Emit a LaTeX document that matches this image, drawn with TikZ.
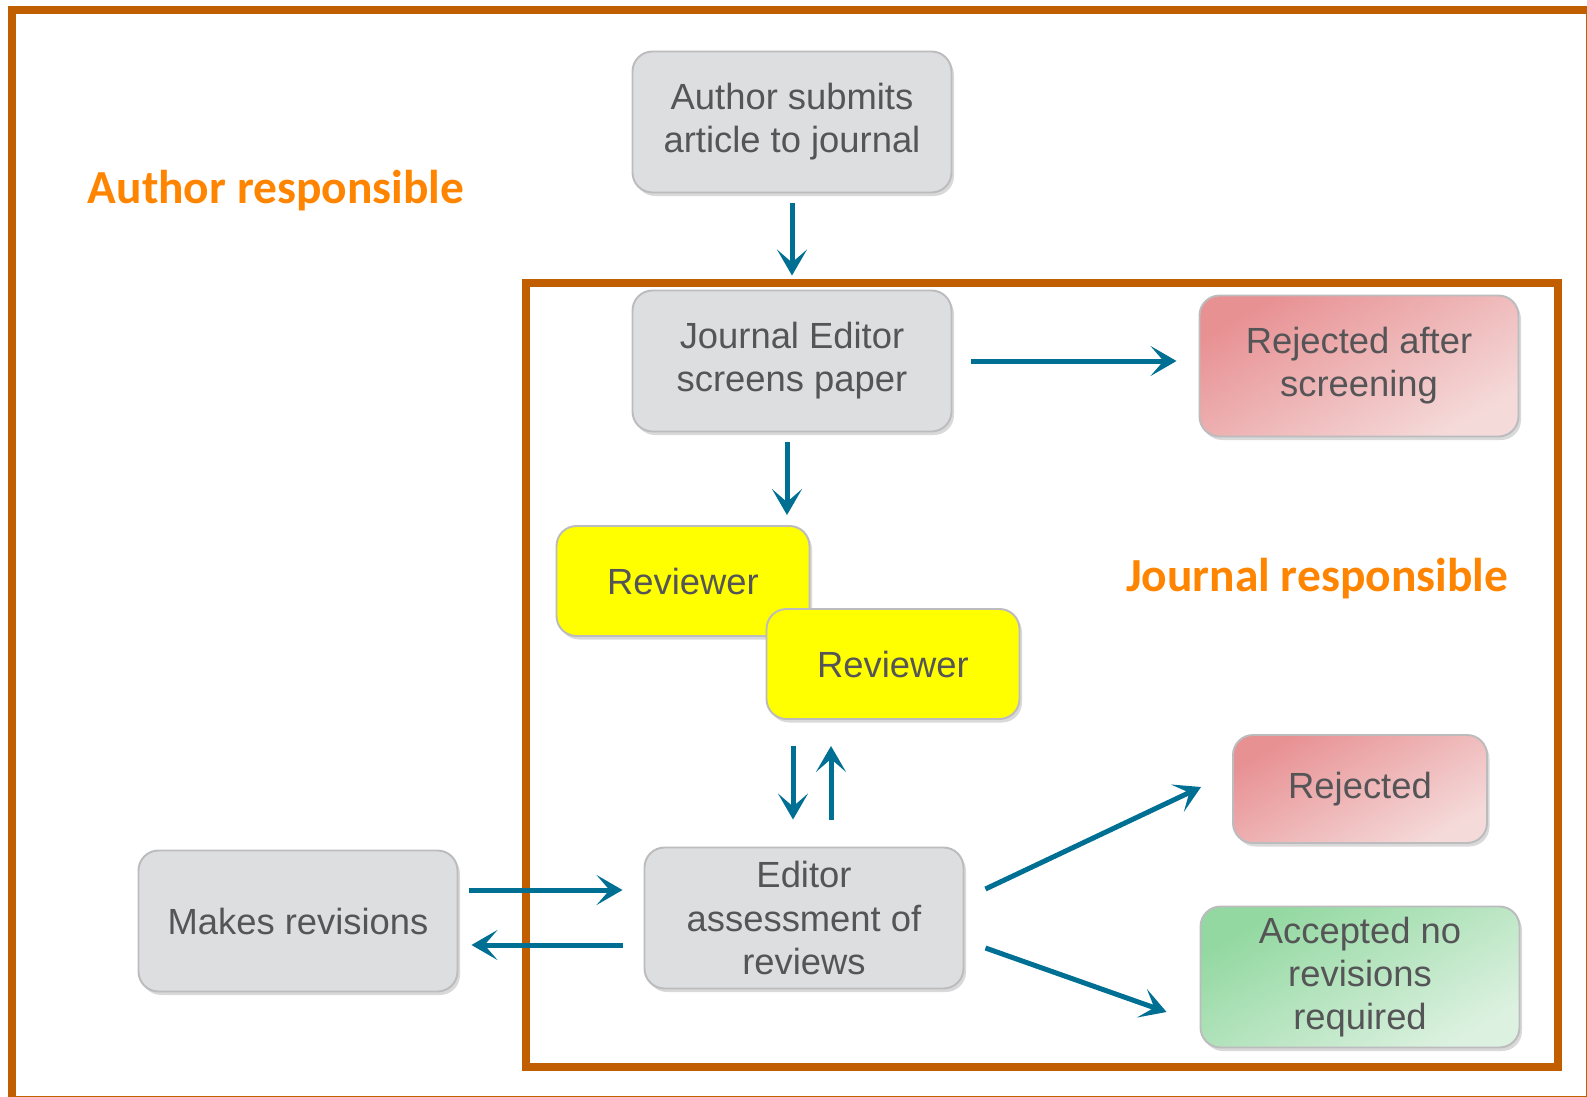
\documentclass[tikz,border=0pt]{standalone}
\usepackage{fontspec}
\setmainfont{Liberation Sans}
\newfontfamily\labelfont{Carlito}
\usepackage{tikz}
\usetikzlibrary{positioning,arrows.meta,shadows,calc}

\definecolor{frameorange}{RGB}{192,94,0}
\definecolor{labelorange}{RGB}{255,133,0}
\definecolor{flowblue}{RGB}{0,111,148}
\definecolor{boxgray}{RGB}{221,222,224}
\definecolor{boxline}{RGB}{188,188,190}
\definecolor{txtgray}{RGB}{85,85,88}
\definecolor{reviewyellow}{RGB}{255,255,0}
\definecolor{redtop}{RGB}{232,145,147}
\definecolor{redbot}{RGB}{245,218,218}
\definecolor{greentop}{RGB}{146,216,160}
\definecolor{greenbot}{RGB}{220,241,224}

\tikzset{
  box/.style={draw=boxline, line width=1.1pt, rounded corners=0.4cm, align=center,
    text=txtgray, font=\fontsize{20.7}{24.5}\selectfont,
    minimum width=6.38cm, minimum height=2.82cm, inner sep=0pt,
    drop shadow={shadow xshift=0.05cm, shadow yshift=-0.07cm, opacity=0.3}},
  greybox/.style={box, fill=boxgray},
  yellowbox/.style={box, fill=reviewyellow, minimum width=5.06cm, minimum height=2.2cm},
  redbox/.style={box, top color=redtop, bottom color=redbot, shading angle=30},
  greenbox/.style={box, top color=greentop, bottom color=greenbot, shading angle=30},
  flow/.style={draw=flowblue, line width=0.1cm,
    -{Stealth[length=0.52cm, width=0.6cm, inset=0.26cm]}},
  frame/.style={draw=frameorange, line width=0.16cm},
  zonelabel/.style={text=labelorange, font=\labelfont\bfseries\fontsize{27}{32}\selectfont}
}

\begin{document}
\begin{tikzpicture}
  \useasboundingbox (0,0) rectangle (31.74,-21.94);
  \draw[frame] (0.24,-0.2) rectangle (31.8,-22.0);
  \draw[frame] (10.52,-5.66) rectangle (31.16,-21.34);

  \node[zonelabel] (authlabel) at (5.52,-3.82) {Author responsible};
  \node[zonelabel] (journlabel) at (26.34,-11.58) {Journal responsible};

  \node[greybox] (submit) at (15.84,-2.44) {Author submits\\article to journal};
  \node[greybox] (screen) at (15.84,-7.22) {Journal Editor\\screens paper};
  \node[redbox] (rejscreen) at (27.18,-7.32) {Rejected after\\screening};
  \node[yellowbox] (rev1) at (13.66,-11.62) {Reviewer};
  \node[yellowbox] (rev2) at (17.86,-13.28) {Reviewer};
  \node[greybox] (assess) at (16.08,-18.36) {Editor\\assessment of\\reviews};
  \node[greybox] (revise) at (5.96,-18.42) {Makes revisions};
  \node[redbox, minimum width=5.08cm, minimum height=2.16cm] (rejected) at (27.2,-15.78) {Rejected};
  \node[greenbox] (accepted) at (27.2,-19.54) {Accepted no\\revisions\\required};

  \draw[flow, shorten <=0.2cm, shorten >=0.28cm] (submit) -- (screen);
  \draw[flow, shorten <=0.38cm, shorten >=0.44cm] (screen.east) -- (screen.east -| rejscreen.west);
  \draw[flow, shorten <=0.2cm, shorten >=0.2cm] ([xshift=-0.1cm]screen.south) -- ([xshift=-0.1cm]screen.south |- rev1.north);
  \draw[flow, shorten <=0.52cm, shorten >=0.54cm] ([xshift=-0.22cm]assess.north |- rev2.south) -- ([xshift=-0.22cm]assess.north);
  \draw[flow, shorten <=0.54cm, shorten >=0.52cm] ([xshift=0.54cm]assess.north) -- ([xshift=0.54cm]assess.north |- rev2.south);
  \draw[flow, shorten <=0.22cm, shorten >=0.42cm] ([yshift=0.62cm]revise.east) -- ([yshift=0.62cm]revise.east -| assess.west);
  \draw[flow, shorten <=0.42cm, shorten >=0.26cm] ([yshift=-0.54cm]assess.west) -- ([yshift=-0.54cm]assess.west -| revise.east);
  \draw[flow] ($(assess.east)+(0.42,0.58)$) -- ($(rejected.west)+(-0.62,0.04)$);
  \draw[flow] ($(assess.east)+(0.42,-0.6)$) -- ($(accepted.west)+(-0.66,-0.7)$);
\end{tikzpicture}
\end{document}
